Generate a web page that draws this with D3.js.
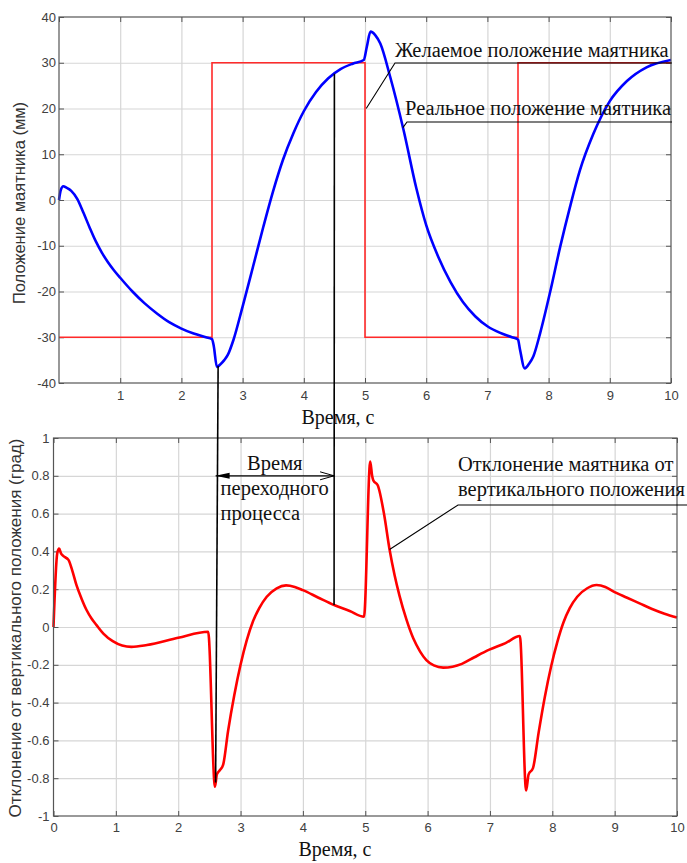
<!DOCTYPE html>
<html>
<head>
<meta charset="utf-8">
<script src="https://cdn.jsdelivr.net/npm/d3@7"></script>
<style>
  body { margin: 0; background: #ffffff; }
</style>
</head>
<body>
<div id="svgOutput"></div>
<script>
// ticks
const timeTicks = [0, 1, 2, 3, 4, 5, 6, 7, 8, 9, 10];
const posTicks = [-40, -30, -20, -10, 0, 10, 20, 30, 40];
const angleTicks = [-1, -0.8, -0.6, -0.4, -0.2, 0, 0.2, 0.4, 0.6, 0.8, 1];

// desired position (mm)
const refTime = [0, 2.5, 2.5, 5, 5, 7.5, 7.5, 10];
const refValue = [-30, -30, 30, 30, -30, -30, 30, 30];

// real position (mm)
const posTime = [0, 0.03, 0.07, 0.12, 0.2, 0.3, 0.4, 0.5, 0.6, 0.7, 0.8, 0.9, 1.0, 1.2, 1.4, 1.6, 1.8, 2.0, 2.2, 2.4, 2.5,
  2.53, 2.58, 2.63, 2.7, 2.76, 2.85, 3.0, 3.17, 3.34, 3.5, 3.66, 3.83, 4.0, 4.2, 4.4, 4.6, 4.8, 4.98,
  5.03, 5.09, 5.17, 5.25, 5.41, 5.63, 5.84, 6.0, 6.2, 6.4, 6.6, 6.8, 7.0, 7.2, 7.4, 7.5,
  7.53, 7.61, 7.68, 7.75, 7.86, 8.02, 8.19, 8.35, 8.51, 8.73, 9.0, 9.28, 9.6, 10.0];
const posValue = [0, 2.2, 3, 2.7, 2, 0.2, -2.8, -6.0, -9.0, -11.5, -13.6, -15.4, -17.0, -20.0, -22.6, -24.8, -26.7, -28.1, -29.2, -30.0, -30.4,
  -32, -36.5, -36, -35, -33.8, -30.6, -23.3, -14.6, -5.8, 2.0, 8.8, 14.6, 19.4, 23.6, 26.6, 28.6, 29.8, 30.6,
  33.5, 36.8, 36, 34.2, 27, 15.3, 2.5, -5.5, -12.5, -18, -22.3, -25.4, -27.6, -29.0, -30.0, -30.5,
  -32.5, -36.8, -35.8, -34.2, -29.2, -20.4, -10.2, -1.5, 6.4, 14.4, 21.6, 26.0, 29.0, 30.6];

// pendulum deviation from vertical (deg)
const angleTime = [0, 0.06, 0.09, 0.12, 0.16, 0.24, 0.3, 0.37, 0.45, 0.53, 0.61, 0.69, 0.8, 0.95, 1.1, 1.25, 1.5, 2.0, 2.48,
  2.59, 2.62, 2.67, 2.72, 2.8, 2.9, 3.0, 3.1, 3.2, 3.3, 3.42, 3.58, 3.73, 3.87, 4.0, 4.25, 4.51, 4.75, 4.98,
  5.08, 5.11, 5.13, 5.2, 5.3, 5.39, 5.47, 5.55, 5.66, 5.77, 5.88, 5.98, 6.1, 6.25, 6.4, 6.55, 6.75, 6.99, 7.25, 7.48,
  7.58, 7.62, 7.69, 7.78, 7.88, 7.98, 8.08, 8.18, 8.28, 8.4, 8.56, 8.71, 8.85, 8.97, 9.2, 9.4, 9.6, 9.8, 10];
const angleValue = [0, 0.39, 0.415, 0.39, 0.375, 0.355, 0.3, 0.22, 0.15, 0.09, 0.045, 0.01, -0.035, -0.075, -0.098, -0.105, -0.095, -0.057, -0.025,
  -0.845, -0.78, -0.757, -0.73, -0.55, -0.36, -0.2, -0.07, 0.03, 0.1, 0.16, 0.205, 0.22, 0.212, 0.195, 0.155, 0.115, 0.085, 0.055,
  0.875, 0.8, 0.775, 0.75, 0.6, 0.41, 0.275, 0.165, 0.04, -0.06, -0.13, -0.175, -0.203, -0.215, -0.21, -0.195, -0.16, -0.12, -0.085, -0.048,
  -0.865, -0.78, -0.747, -0.56, -0.37, -0.21, -0.08, 0.025, 0.1, 0.16, 0.205, 0.222, 0.212, 0.19, 0.155, 0.125, 0.095, 0.07, 0.05];

// transient process markers (s)
const transientStart = 2.6;
const transientEnd = 4.5;

(function () {
  document.addEventListener('DOMContentLoaded', function () {

    // config

    const width = 687;
    const height = 863;
    const topBox = { left: 59, right: 671, top: 17, bottom: 383 };
    const botBox = { left: 53.5, right: 677, top: 438, bottom: 816 };
    const sans = '"Liberation Sans", Arial, sans-serif';
    const serif = '"Liberation Serif", "Times New Roman", serif';
    const fmt = d => String(+d.toFixed(1));

    const svg = d3.select("#svgOutput")
      .append("svg")
      .attr("width", width)
      .attr("height", height)
      .attr("viewBox", [0, 0, width, height]);

    svg.append("rect").attr("width", width).attr("height", height).attr("fill", "#ffffff");

    // scales

    const x1 = d3.scaleLinear().domain([0, 10]).range([topBox.left, topBox.right]);
    const y1 = d3.scaleLinear().domain([-40, 40]).range([topBox.bottom, topBox.top]);
    const x2 = d3.scaleLinear().domain([0, 10]).range([botBox.left, botBox.right]);
    const y2 = d3.scaleLinear().domain([-1, 1]).range([botBox.bottom, botBox.top]);

    // piecewise lookups for annotation anchors
    const posAt = d3.scaleLinear().domain(posTime).range(posValue);
    const angleAt = d3.scaleLinear().domain(angleTime).range(angleValue);

    // frame: grid, ticks, labels

    function drawFrame(x, y, box, xLabelTicks, yTicks, xPad, yPad) {
      const w = box.right - box.left;
      const h = box.bottom - box.top;

      svg.append("g")
        .attr("transform", "translate(0, " + box.bottom + ")")
        .call(d3.axisBottom(x).tickValues(timeTicks.slice(1, -1)).tickSize(-h).tickFormat(''))
        .call(g => g.select(".domain").remove())
        .call(g => g.selectAll(".tick line").attr("stroke", "#d6d6d6").attr("stroke-width", 1.2));

      svg.append("g")
        .attr("transform", "translate(" + box.left + ", 0)")
        .call(d3.axisLeft(y).tickValues(yTicks.slice(1, -1)).tickSize(-w).tickFormat(''))
        .call(g => g.select(".domain").remove())
        .call(g => g.selectAll(".tick line").attr("stroke", "#d6d6d6").attr("stroke-width", 1.2));

      const axes = svg.append("g").attr("class", "axes");

      axes.append("g")
        .attr("transform", "translate(0, " + box.bottom + ")")
        .call(d3.axisBottom(x).tickValues(xLabelTicks).tickSizeInner(-5).tickSizeOuter(0).tickPadding(xPad).tickFormat(fmt))
        .call(g => g.select(".domain").remove())
        .call(g => g.selectAll(".tick line").attr("stroke", "#555555"))
        .call(g => g.selectAll(".tick text")
          .attr("fill", "#404040")
          .style("font-family", sans)
          .style("font-size", "13px"));

      axes.append("g")
        .attr("transform", "translate(0, " + box.top + ")")
        .call(d3.axisTop(x).tickValues(timeTicks).tickSizeInner(-5).tickSizeOuter(0).tickFormat(''))
        .call(g => g.select(".domain").remove())
        .call(g => g.selectAll(".tick line").attr("stroke", "#555555"));

      axes.append("g")
        .attr("transform", "translate(" + box.left + ", 0)")
        .call(d3.axisLeft(y).tickValues(yTicks).tickSizeInner(-5).tickSizeOuter(0).tickPadding(yPad).tickFormat(fmt))
        .call(g => g.select(".domain").remove())
        .call(g => g.selectAll(".tick line").attr("stroke", "#555555"))
        .call(g => g.selectAll(".tick text")
          .attr("fill", "#404040")
          .style("font-family", sans)
          .style("font-size", "13px"));

      axes.append("g")
        .attr("transform", "translate(" + box.right + ", 0)")
        .call(d3.axisRight(y).tickValues(yTicks).tickSizeInner(-5).tickSizeOuter(0).tickFormat(''))
        .call(g => g.select(".domain").remove())
        .call(g => g.selectAll(".tick line").attr("stroke", "#555555"));

      return axes;
    }

    function drawBox(box) {
      svg.append("rect")
        .attr("x", box.left)
        .attr("y", box.top)
        .attr("width", box.right - box.left)
        .attr("height", box.bottom - box.top)
        .attr("fill", "none")
        .attr("stroke", "#555555")
        .attr("stroke-width", 1.2);
    }

    drawFrame(x1, y1, topBox, timeTicks.slice(1), posTicks, 8, 3);
    drawFrame(x2, y2, botBox, timeTicks, angleTicks, 7, 4);

    // curves

    const refData = refTime.map((t, i) => ({ t: t, v: refValue[i] }));
    const posData = posTime.map((t, i) => ({ t: t, v: posValue[i] }));
    const angleData = angleTime.map((t, i) => ({ t: t, v: angleValue[i] }));

    svg.append('path')
      .attr('d', d3.line().x(d => x1(d.t)).y(d => y1(d.v))(refData))
      .attr('fill', 'none')
      .attr('stroke', '#ff2a2a')
      .attr('stroke-width', 1.6);

    svg.append('path')
      .attr('d', d3.line().curve(d3.curveMonotoneX).x(d => x1(d.t)).y(d => y1(d.v))(posData))
      .attr('fill', 'none')
      .attr('stroke', '#0000ff')
      .attr('stroke-width', 2.6)
      .attr('stroke-linejoin', 'round');

    svg.append('path')
      .attr('d', d3.line().curve(d3.curveMonotoneX).x(d => x2(d.t)).y(d => y2(d.v))(angleData))
      .attr('fill', 'none')
      .attr('stroke', '#ff0000')
      .attr('stroke-width', 2.6)
      .attr('stroke-linejoin', 'round');

    drawBox(topBox);
    drawBox(botBox);

    // axis titles

    svg.append('text')
      .attr('transform', 'translate(25, ' + (y1(0) + 3) + ') rotate(-90)')
      .attr('text-anchor', 'middle')
      .style('font-family', sans)
      .style('font-size', '16.5px')
      .style('fill', '#333333')
      .text('Положение маятника (мм)');

    svg.append('text')
      .attr('transform', 'translate(21, ' + (y2(0) + 1) + ') rotate(-90)')
      .attr('text-anchor', 'middle')
      .style('font-family', sans)
      .style('font-size', '17px')
      .style('fill', '#333333')
      .text('Отклонение от вертикального положения (град)');

    svg.append('text')
      .attr('x', 338)
      .attr('y', 424)
      .attr('text-anchor', 'middle')
      .style('font-family', serif)
      .style('font-size', '20px')
      .style('fill', '#111111')
      .text('Время, с');

    svg.append('text')
      .attr('x', 335)
      .attr('y', 856)
      .attr('text-anchor', 'middle')
      .style('font-family', serif)
      .style('font-size', '20px')
      .style('fill', '#111111')
      .text('Время, с');

    // annotations

    const ann = svg.append('g').attr('class', 'annotations');

    // transient process: two vertical lines across both plots
    [transientStart, transientEnd].forEach(t => {
      ann.append('line')
        .attr('x1', x1(t)).attr('y1', y1(posAt(t)))
        .attr('x2', x2(t)).attr('y2', y2(angleAt(t)))
        .attr('stroke', '#000000')
        .attr('stroke-width', 1.6);
    });

    const arrowY = y2(0.8);
    const ax1 = x2(transientStart);
    const ax2 = x2(transientEnd);

    ann.append('line')
      .attr('x1', ax1).attr('y1', arrowY)
      .attr('x2', ax2).attr('y2', arrowY)
      .attr('stroke', '#000000')
      .attr('stroke-width', 1.2);

    ann.append('path')
      .attr('d', 'M' + (ax1 + 14) + ',' + (arrowY - 3) + 'L' + ax1 + ',' + arrowY + 'L' + (ax1 + 14) + ',' + (arrowY + 3) + 'Z')
      .attr('fill', '#000000');

    ann.append('path')
      .attr('d', 'M' + (ax2 - 14) + ',' + (arrowY - 4) + 'L' + ax2 + ',' + arrowY + 'L' + (ax2 - 14) + ',' + (arrowY + 4))
      .attr('fill', 'none')
      .attr('stroke', '#000000')
      .attr('stroke-width', 1);

    const annText = (x, y, s, anchor) => ann.append('text')
      .attr('x', x)
      .attr('y', y)
      .attr('text-anchor', anchor || 'start')
      .style('font-family', serif)
      .style('font-size', '20.5px')
      .style('fill', '#111111')
      .text(s);

    annText((ax1 + ax2) / 2, 470, 'Время', 'middle');
    annText(ax1 + 5, 495, 'переходного');
    annText(ax1 + 5, 520, 'процесса');

    // leaders
    const leader = (pts) => ann.append('path')
      .attr('d', d3.line()(pts))
      .attr('fill', 'none')
      .attr('stroke', '#000000')
      .attr('stroke-width', 1.1);

    leader([[x1(5.02), y1(20)], [395, 63], [672, 63]]);
    annText(395, 57, 'Желаемое положение маятника');

    leader([[x1(5.62), y1(posAt(5.62))], [407, 122], [672, 122]]);
    annText(405, 115, 'Реальное положение маятника');

    leader([[x2(5.39), y2(angleAt(5.39))], [458, 505], [687, 505]]);
    annText(458, 471, 'Отклонение маятника от');
    annText(458, 496, 'вертикального положения');

  });
})();
</script>
</body>
</html>
